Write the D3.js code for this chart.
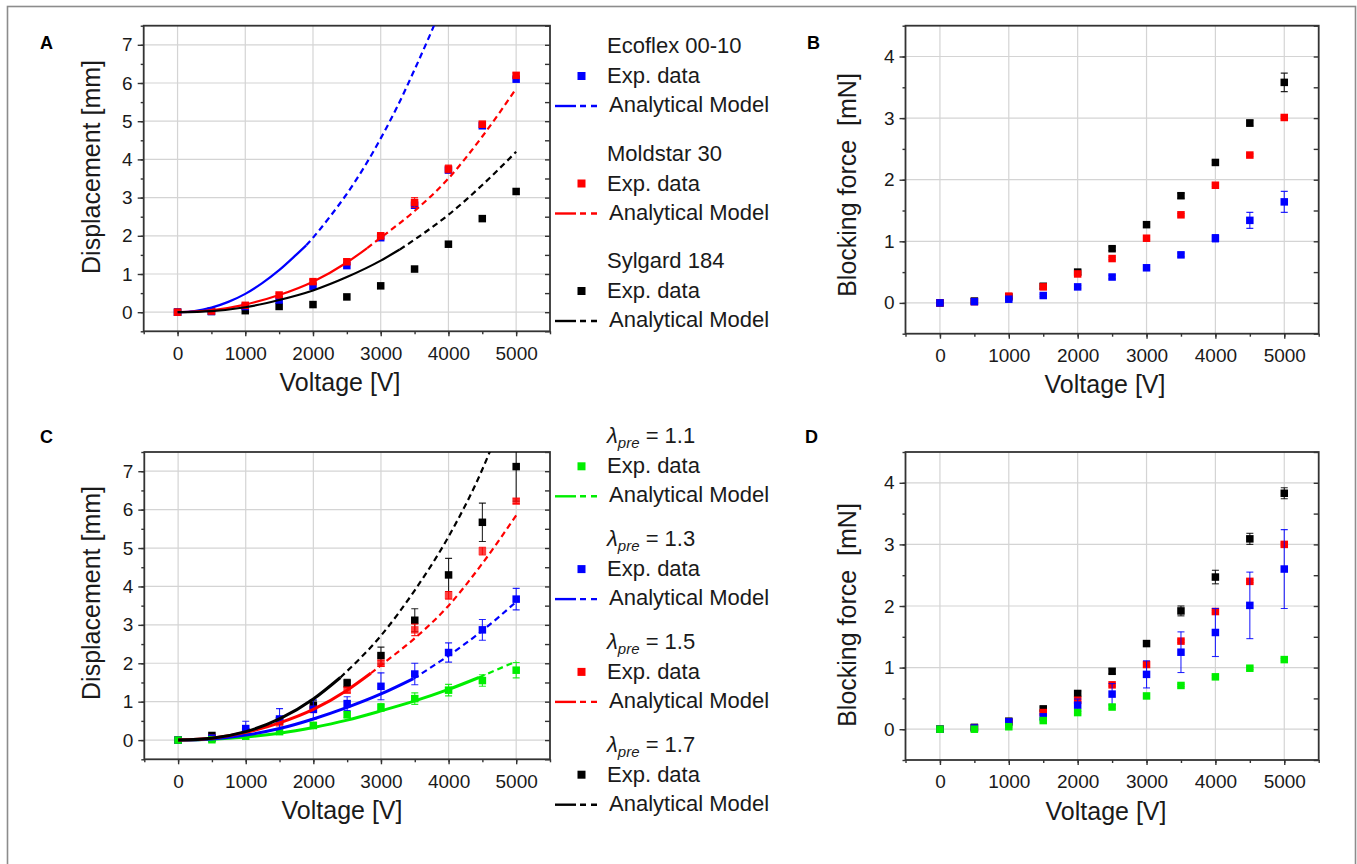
<!DOCTYPE html>
<html>
<head>
<meta charset="utf-8">
<script src="https://cdn.jsdelivr.net/npm/d3@7"></script>
<style>
  body { margin: 0; background: #fff; }
  svg { display: block; font-family: "Liberation Sans", Arial, sans-serif; }
</style>
</head>
<body>
<svg id="fig" width="1357" height="864"></svg>
<script>
// measured voltages (same for every series)
var volts = [0, 500, 1000, 1500, 2000, 2500, 3000, 3500, 4000, 4500, 5000];

// A: displacement [mm] of the three elastomers
var ecoflexDisp  = [0, 0.02, 0.15, 0.32, 0.68, 1.22, 1.95, 2.80, 3.72, 4.88, 6.10];
var moldstarDisp = [0, 0.03, 0.18, 0.45, 0.80, 1.32, 2.00, 2.87, 3.75, 4.92, 6.20];
var moldstarErr  = [0.02, 0.02, 0.03, 0.04, 0.05, 0.07, 0.08, 0.13, 0.10, 0.08, 0.06];
var sylgardDisp  = [0, 0.02, 0.04, 0.15, 0.20, 0.40, 0.69, 1.13, 1.78, 2.45, 3.16];

// A: analytical model curves (solid up to split voltage, dashed after)
var ecoflexModelV  = [0, 250, 500, 750, 1000, 1250, 1500, 1750, 1900, 2000, 2250, 2500, 2750, 3000, 3250, 3500, 3750, 4000];
var ecoflexModel   = [0, 0.03, 0.12, 0.27, 0.48, 0.76, 1.10, 1.50, 1.75, 1.95, 2.50, 3.10, 3.78, 4.55, 5.40, 6.35, 7.35, 8.40];
var moldstarModelV = [0, 500, 1000, 1500, 2000, 2500, 2800, 3000, 3500, 4000, 4500, 5000];
var moldstarModel  = [0, 0.05, 0.20, 0.45, 0.80, 1.30, 1.68, 1.95, 2.65, 3.50, 4.60, 5.85];
var sylgardModelV  = [0, 500, 1000, 1500, 2000, 2500, 3000, 3280, 3500, 4000, 4500, 5000];
var sylgardModel   = [0, 0.03, 0.13, 0.32, 0.57, 0.92, 1.35, 1.64, 1.90, 2.55, 3.33, 4.20];
var splitA = [1900, 2800, 3280];

// B: blocking force [mN] of the three elastomers
var ecoflexForce  = [0, 0.02, 0.06, 0.12, 0.26, 0.42, 0.57, 0.78, 1.05, 1.34, 1.64];
var ecoflexFErr   = [0.01, 0.01, 0.02, 0.02, 0.02, 0.03, 0.03, 0.03, 0.06, 0.13, 0.17];
var moldstarForce = [0, 0.02, 0.11, 0.26, 0.47, 0.72, 1.05, 1.43, 1.91, 2.40, 3.01];
var moldstarFErr  = [0.01, 0.01, 0.02, 0.02, 0.02, 0.02, 0.02, 0.02, 0.02, 0.02, 0.02];
var sylgardForce  = [0, 0.03, 0.10, 0.27, 0.50, 0.88, 1.27, 1.74, 2.28, 2.92, 3.58];
var sylgardFErr   = [0.01, 0.04, 0.03, 0.04, 0.04, 0.03, 0.03, 0.04, 0.03, 0.05, 0.15];

// C: displacement [mm] for four pre-stretch ratios
var pre11Disp = [0, 0.01, 0.10, 0.22, 0.38, 0.66, 0.85, 1.08, 1.30, 1.55, 1.82];
var pre11Err  = [0.02, 0.02, 0.03, 0.05, 0.08, 0.08, 0.10, 0.15, 0.15, 0.15, 0.20];
var pre13Disp = [0, 0.05, 0.30, 0.55, 0.80, 0.95, 1.40, 1.72, 2.28, 2.87, 3.67];
var pre13Err  = [0.02, 0.05, 0.19, 0.27, 0.25, 0.18, 0.35, 0.28, 0.25, 0.27, 0.28];
var pre15Disp = [0, 0.05, 0.18, 0.45, 0.80, 1.30, 2.00, 2.87, 3.77, 4.92, 6.22];
var pre15Err  = [0.02, 0.02, 0.03, 0.04, 0.05, 0.07, 0.08, 0.15, 0.10, 0.10, 0.06];
var pre17Disp = [0, 0.12, 0.22, 0.50, 0.90, 1.48, 2.20, 3.12, 4.30, 5.67, 7.12];
var pre17Err  = [0.02, 0.03, 0.05, 0.08, 0.12, 0.10, 0.22, 0.30, 0.43, 0.50, 0.90];

// C: analytical model curves
var pre11ModelV = [0, 500, 1000, 1500, 2000, 2500, 3000, 3500, 4000, 4450, 5000];
var pre11Model  = [0, 0.02, 0.08, 0.18, 0.33, 0.52, 0.76, 1.02, 1.32, 1.63, 2.05];
var pre13ModelV = [0, 500, 1000, 1500, 2000, 2500, 3000, 3480, 4000, 4500, 5000];
var pre13Model  = [0, 0.03, 0.13, 0.30, 0.55, 0.85, 1.20, 1.60, 2.20, 2.85, 3.60];
var pre15ModelV = [0, 500, 1000, 1500, 2000, 2500, 2850, 3000, 3500, 4000, 4500, 5000];
var pre15Model  = [0, 0.05, 0.20, 0.45, 0.80, 1.30, 1.74, 1.95, 2.65, 3.50, 4.60, 5.85];
var pre17ModelV = [0, 500, 1000, 1500, 2000, 2400, 3000, 3500, 4000, 4500, 4700];
var pre17Model  = [0, 0.05, 0.22, 0.55, 1.07, 1.63, 2.72, 3.90, 5.30, 7.05, 7.90];
var splitC = [4450, 3480, 2850, 2400];

// D: blocking force [mN] for four pre-stretch ratios
var pre11Force = [0, 0.00, 0.04, 0.14, 0.27, 0.36, 0.54, 0.71, 0.85, 0.99, 1.13];
var pre11FErr  = [0.01, 0.01, 0.01, 0.02, 0.02, 0.02, 0.02, 0.02, 0.02, 0.02, 0.02];
var pre13Force = [0, 0.02, 0.12, 0.20, 0.39, 0.57, 0.89, 1.25, 1.57, 2.01, 2.60];
var pre13FErr  = [0.01, 0.01, 0.03, 0.05, 0.10, 0.17, 0.22, 0.33, 0.39, 0.54, 0.64];
var pre15Force = [0, 0.02, 0.11, 0.27, 0.47, 0.72, 1.05, 1.43, 1.91, 2.40, 3.00];
var pre15FErr  = [0.01, 0.01, 0.02, 0.02, 0.02, 0.02, 0.02, 0.02, 0.02, 0.02, 0.02];
var pre17Force = [0, 0.03, 0.13, 0.33, 0.58, 0.94, 1.39, 1.92, 2.47, 3.09, 3.83];
var pre17FErr  = [0.01, 0.04, 0.03, 0.03, 0.04, 0.04, 0.04, 0.08, 0.11, 0.09, 0.09];

var xTicks = [0, 1000, 2000, 3000, 4000, 5000];
var dispTicks = [0, 1, 2, 3, 4, 5, 6, 7];
var forceTicks = [0, 1, 2, 3, 4];

var legendA = ["Ecoflex 00-10", "Moldstar 30", "Sylgard 184"];
var legendC = ["1.1", "1.3", "1.5", "1.7"];

var BLUE = "#0000ff", RED = "#ff0000", BLACK = "#000000", GREEN = "#00ee00";
var ink = "#1a1a1a";

var svg = d3.select("#fig");

// outer frame of the figure
svg.append("rect")
  .attr("x", 7.5).attr("y", 6.5)
  .attr("width", 1348).attr("height", 900)
  .attr("fill", "none").attr("stroke", "#8c8c8c").attr("stroke-width", 1.6);

var clipCount = 0;

function makePanel(box, yMax, yTicks, opts) {
  var x = d3.scaleLinear().domain([-500, 5500]).range([box.left, box.right]);
  var y = d3.scaleLinear().domain([-0.5, yMax]).range([box.bottom, box.top]);
  var g = svg.append("g");

  // grid
  g.selectAll(".gx").data(xTicks).enter().append("line")
    .attr("x1", x).attr("x2", x).attr("y1", box.top).attr("y2", box.bottom)
    .attr("stroke", "#d4d4d4").attr("stroke-width", 1.2);
  g.selectAll(".gy").data(yTicks).enter().append("line")
    .attr("y1", y).attr("y2", y).attr("x1", box.left).attr("x2", box.right)
    .attr("stroke", "#d4d4d4").attr("stroke-width", 1.2);

  var minorX = d3.range(-500, 5501, 500);
  var minorY = d3.range(-0.5, yMax + 0.01, 0.5);

  // bottom axis
  g.append("g").attr("transform", "translate(0," + box.bottom + ")")
    .call(d3.axisBottom(x).tickValues(minorX).tickSize(3).tickFormat(""))
    .call(function(a) { a.select(".domain").remove(); });
  g.append("g").attr("transform", "translate(0," + box.bottom + ")")
    .call(d3.axisBottom(x).tickValues(xTicks).tickSize(5).tickPadding(10).tickFormat(d3.format("d")))
    .call(function(a) { a.select(".domain").remove(); });

  // left axis
  g.append("g").attr("transform", "translate(" + box.left + ",0)")
    .call(d3.axisLeft(y).tickValues(minorY).tickSize(3).tickFormat(""))
    .call(function(a) { a.select(".domain").remove(); });
  g.append("g").attr("transform", "translate(" + box.left + ",0)")
    .call(d3.axisLeft(y).tickValues(yTicks).tickSize(6).tickPadding(5).tickFormat(d3.format("d")))
    .call(function(a) { a.select(".domain").remove(); });

  // right axis, ticks pointing inside
  g.append("g").attr("transform", "translate(" + box.right + ",0)")
    .call(d3.axisRight(y).tickValues(minorY).tickSize(-5).tickFormat(""))
    .call(function(a) { a.select(".domain").remove(); });

  g.selectAll(".tick line").attr("stroke", "#333").attr("stroke-width", 1.4);
  g.selectAll(".tick text").attr("font-size", 19).attr("fill", ink)
    .attr("font-family", "Liberation Sans, Arial, sans-serif");

  g.append("rect")
    .attr("x", box.left).attr("y", box.top)
    .attr("width", box.right - box.left).attr("height", box.bottom - box.top)
    .attr("fill", "none").attr("stroke", "#333").attr("stroke-width", 1.8);

  // axis titles
  svg.append("text")
    .attr("x", opts.xTitleX).attr("y", box.bottom + 59.5)
    .attr("text-anchor", "middle").attr("font-size", 25).attr("fill", ink)
    .text("Voltage [V]");
  svg.append("text")
    .attr("transform", "translate(" + opts.yTitleX + "," + opts.yTitleY + ") rotate(-90)")
    .attr("text-anchor", "middle").attr("font-size", 25).attr("fill", ink)
    .style("white-space", "pre")
    .text(opts.yTitle);

  svg.append("text")
    .attr("x", opts.letterX).attr("y", opts.letterY)
    .attr("font-size", 18).attr("font-weight", "bold").attr("fill", "#000")
    .text(opts.letter);

  var id = "clip" + (clipCount++);
  svg.append("clipPath").attr("id", id).append("rect")
    .attr("x", box.left).attr("y", box.top)
    .attr("width", box.right - box.left).attr("height", box.bottom - box.top);
  var plot = svg.append("g").attr("clip-path", "url(#" + id + ")");

  return { x: x, y: y, plot: plot };
}

function drawSeries(p, vals, errs, color, opacity) {
  var pts = volts.map(function(v, i) { return { v: v, d: vals[i], e: errs ? errs[i] : 0 }; });
  var s = p.plot.append("g");
  var eb = s.selectAll(".eb").data(pts.filter(function(d) { return d.e > 0; }))
    .enter().append("g")
    .attr("stroke", color).attr("stroke-width", 1.1).attr("stroke-opacity", 0.85);
  eb.append("line")
    .attr("x1", function(d) { return p.x(d.v); }).attr("x2", function(d) { return p.x(d.v); })
    .attr("y1", function(d) { return p.y(d.d - d.e); }).attr("y2", function(d) { return p.y(d.d + d.e); });
  eb.append("line")
    .attr("x1", function(d) { return p.x(d.v) - 3.5; }).attr("x2", function(d) { return p.x(d.v) + 3.5; })
    .attr("y1", function(d) { return p.y(d.d + d.e); }).attr("y2", function(d) { return p.y(d.d + d.e); });
  eb.append("line")
    .attr("x1", function(d) { return p.x(d.v) - 3.5; }).attr("x2", function(d) { return p.x(d.v) + 3.5; })
    .attr("y1", function(d) { return p.y(d.d - d.e); }).attr("y2", function(d) { return p.y(d.d - d.e); });
  s.selectAll("rect").data(pts).enter().append("rect")
    .attr("x", function(d) { return p.x(d.v) - 3.75; })
    .attr("y", function(d) { return p.y(d.d) - 3.75; })
    .attr("width", 7.5).attr("height", 7.5)
    .attr("fill", color).attr("fill-opacity", opacity || 1);
}

function drawModel(p, mv, my, split, color, width) {
  var pts = mv.map(function(v, i) { return [v, my[i]]; });
  var line = d3.line()
    .x(function(d) { return p.x(d[0]); })
    .y(function(d) { return p.y(d[1]); })
    .curve(d3.curveMonotoneX);
  p.plot.append("path")
    .datum(pts.filter(function(d) { return d[0] <= split; }))
    .attr("d", line).attr("fill", "none")
    .attr("stroke", color).attr("stroke-width", width);
  p.plot.append("path")
    .datum(pts.filter(function(d) { return d[0] >= split; }))
    .attr("d", line).attr("fill", "none")
    .attr("stroke", color).attr("stroke-width", 2.2)
    .attr("stroke-dasharray", "6,4");
}

function legendEntry(expY, color, header, isLambda) {
  var t = svg.append("text")
    .attr("x", 607).attr("y", expY - 30)
    .attr("font-size", 22).attr("fill", ink);
  if (isLambda) {
    t.append("tspan").attr("font-style", "italic").text("\u03bb");
    t.append("tspan").attr("font-style", "italic").attr("font-size", 15).attr("dy", 5).text("pre");
    t.append("tspan").attr("dy", -5).text(" = " + header);
  } else {
    t.text(header);
  }
  svg.append("rect")
    .attr("x", 577.5).attr("y", expY - 11).attr("width", 8).attr("height", 8)
    .attr("fill", color);
  svg.append("text")
    .attr("x", 607).attr("y", expY)
    .attr("font-size", 22).attr("fill", ink).text("Exp. data");
  svg.append("line")
    .attr("x1", 555).attr("x2", 576).attr("y1", expY + 23).attr("y2", expY + 23)
    .attr("stroke", color).attr("stroke-width", 2.4);
  svg.append("line")
    .attr("x1", 580).attr("x2", 599).attr("y1", expY + 23).attr("y2", expY + 23)
    .attr("stroke", color).attr("stroke-width", 2.4).attr("stroke-dasharray", "6,5");
  svg.append("text")
    .attr("x", 609).attr("y", expY + 29)
    .attr("font-size", 22).attr("fill", ink).text("Analytical Model");
}

// ---- panel A
var pA = makePanel({ left: 143.7, right: 550, top: 25.7, bottom: 331.3 }, 7.5, dispTicks,
  { xTitleX: 340, yTitleX: 100, yTitleY: 167, yTitle: "Displacement [mm]", letter: "A", letterX: 40, letterY: 49 });
drawSeries(pA, sylgardDisp, null, BLACK);
drawSeries(pA, ecoflexDisp, null, BLUE);
drawSeries(pA, moldstarDisp, moldstarErr, RED);
drawModel(pA, ecoflexModelV, ecoflexModel, splitA[0], BLUE, 2.2);
drawModel(pA, moldstarModelV, moldstarModel, splitA[1], RED, 2.2);
drawModel(pA, sylgardModelV, sylgardModel, splitA[2], BLACK, 2.2);

// ---- panel B
var pB = makePanel({ left: 905.5, right: 1318.7, top: 25.7, bottom: 333.7 }, 4.5, forceTicks,
  { xTitleX: 1105, yTitleX: 856, yTitleY: 185, yTitle: "Blocking force  [mN]", letter: "B", letterX: 807, letterY: 49 });
drawSeries(pB, sylgardForce, sylgardFErr, BLACK);
drawSeries(pB, moldstarForce, moldstarFErr, RED);
drawSeries(pB, ecoflexForce, ecoflexFErr, BLUE);

// ---- panel C
var pC = makePanel({ left: 144.3, right: 550, top: 452, bottom: 759.3 }, 7.5, dispTicks,
  { xTitleX: 342, yTitleX: 100, yTitleY: 593, yTitle: "Displacement [mm]", letter: "C", letterX: 40, letterY: 443 });
drawSeries(pC, pre17Disp, pre17Err, BLACK);
drawSeries(pC, pre15Disp, pre15Err, RED, 0.75);
drawSeries(pC, pre13Disp, pre13Err, BLUE);
drawSeries(pC, pre11Disp, pre11Err, GREEN);
drawModel(pC, pre11ModelV, pre11Model, splitC[0], GREEN, 3);
drawModel(pC, pre13ModelV, pre13Model, splitC[1], BLUE, 3);
drawModel(pC, pre15ModelV, pre15Model, splitC[2], RED, 3);
drawModel(pC, pre17ModelV, pre17Model, splitC[3], BLACK, 3);

// ---- panel D
var pD = makePanel({ left: 905.5, right: 1318.7, top: 452, bottom: 760 }, 4.5, forceTicks,
  { xTitleX: 1106, yTitleX: 856, yTitleY: 615, yTitle: "Blocking force  [mN]", letter: "D", letterX: 805, letterY: 443 });
drawSeries(pD, pre17Force, pre17FErr, BLACK);
drawSeries(pD, pre15Force, pre15FErr, RED);
drawSeries(pD, pre13Force, pre13FErr, BLUE);
drawSeries(pD, pre11Force, pre11FErr, GREEN);

// ---- legends
var colorsA = [BLUE, RED, BLACK];
legendA.forEach(function(name, i) { legendEntry(83 + i * 107.5, colorsA[i], name, false); });
var colorsC = [GREEN, BLUE, RED, BLACK];
legendC.forEach(function(val, i) { legendEntry(473.3 + i * 102.8, colorsC[i], val, true); });
</script>
</body>
</html>
